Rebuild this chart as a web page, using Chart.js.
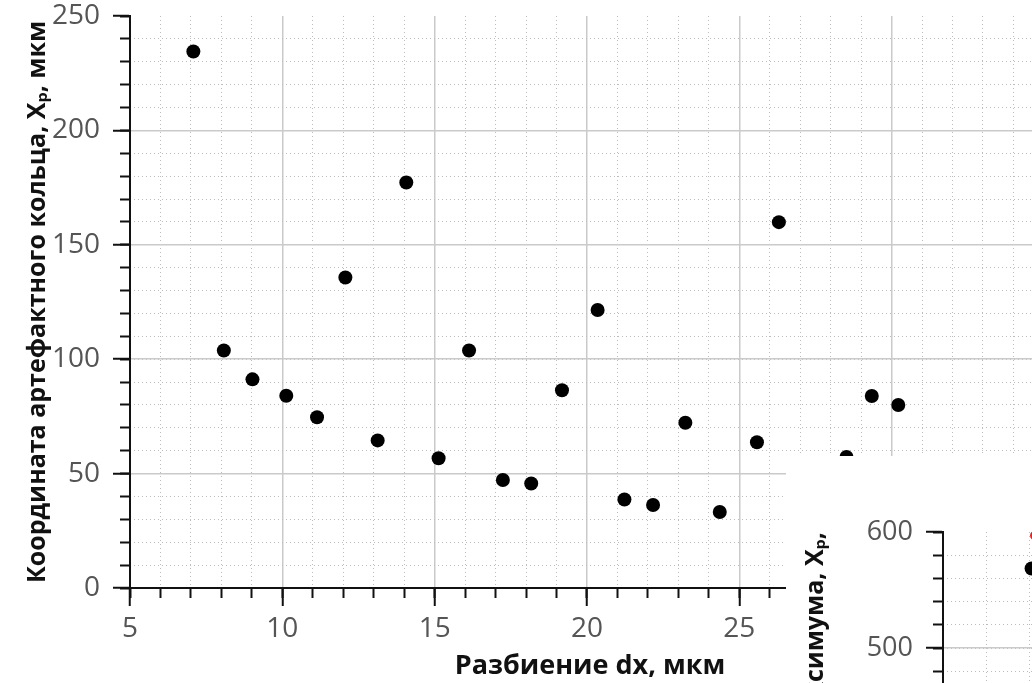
<!DOCTYPE html>
<html>
<head>
<meta charset="utf-8">
<script src="https://cdn.jsdelivr.net/npm/chart.js@4.4.0/dist/chart.umd.min.js"></script>
<style>
  html, body { margin: 0; padding: 0; background: #fff; overflow: hidden; }
  #wrap { position: relative; width: 1032px; height: 683px; overflow: hidden; }
  #main { position: absolute; left: 0; top: 0; }
  #inset { position: absolute; left: 786px; top: 456px; background: #fff; }
</style>
</head>
<body>
<div id="wrap">
  <canvas id="main" width="1070" height="683"></canvas>
  <canvas id="inset" width="480" height="500"></canvas>
</div>
<script>
// основной график: координата артефактного кольца от разбиения
const dx = [7.08, 8.08, 9.02, 10.13, 11.14, 12.07, 13.13, 14.07, 15.13, 16.13, 17.24, 18.17,
            19.18, 20.35, 21.23, 22.17, 23.23, 24.36, 25.58, 26.30, 28.52, 29.35, 30.22];
const xp = [234.5, 103.8, 91.2, 84.0, 74.6, 135.7, 64.5, 177.2, 56.7, 103.8, 47.2, 45.7,
            86.4, 121.5, 38.7, 36.3, 72.2, 33.2, 63.7, 159.9, 57.3, 83.9, 80.0];

// вставка: координата максимума (видна только часть)
const insetDx = [7.04];
const insetXp = [568.5];
const insetRedDx = [7.12];
const insetRedXp = [597];

const xTitle = 'Разбиение dx, мкм';
const yTitle = 'Координата артефактного кольца, Xₚ, мкм';
const insetYTitle = 'Координата максимума, Xₚ,';

const tickGrey = '#555';
const minorGrid = '#bdbdbd';
const majorGrid = '#cacaca';
const axisBlack = '#111';

function pts(xs, ys) {
  return xs.map((x, i) => ({ x: x, y: ys[i] }));
}

// сетка: прячем линию на верхней границе
function gridColor(top, col) {
  return ctx => (ctx.tick && ctx.tick.value === top) ? 'rgba(0,0,0,0)' : col;
}

function noPadX(s) { s.paddingLeft = 0; s.paddingRight = 0; }
function noPadY(s) { s.paddingTop = 0; s.paddingBottom = 0; }

// две оси на каждую сторону: мелкая (пунктир, короткие риски) и крупная (сплошная, подписи)
function makeScales(o) {
  return {
    x: {
      type: 'linear', position: 'bottom', min: o.xmin, max: o.xmax, weight: 0,
      ticks: { stepSize: 1, display: false },
      grid: { color: gridColor(o.xmax, minorGrid), lineWidth: 1, tickColor: axisBlack, tickLength: 10, tickWidth: 2 },
      border: { display: false, dash: [1, 3] },
      afterFit(s) { s.height = 0; noPadX(s); }
    },
    xMajor: {
      type: 'linear', position: 'bottom', min: o.xmin, max: o.xmax, weight: 1,
      ticks: { stepSize: 5, font: { family: '"Open Sans"', size: o.tickSize, lineHeight: 1 }, color: tickGrey, padding: 9 },
      grid: { color: gridColor(o.xmax, majorGrid), lineWidth: 1.5, tickColor: axisBlack, tickLength: 18, tickWidth: 2 },
      border: { color: axisBlack, width: 2 },
      title: { display: true, text: xTitle, color: axisBlack, font: { family: '"Open Sans"', size: 27, weight: 'bold' }, padding: { top: 0, bottom: 0 } },
      afterFit(s) { s.height = o.xHeight; noPadX(s); }
    },
    y: {
      type: 'linear', position: 'left', min: o.ymin, max: o.ymax, weight: 0,
      ticks: { stepSize: o.yMinor, display: false },
      grid: { color: gridColor(o.ymax, minorGrid), lineWidth: 1, tickColor: axisBlack, tickLength: 10, tickWidth: 2 },
      border: { display: false, dash: [1, 3] },
      afterFit(s) { s.width = 0; noPadY(s); }
    },
    yMajor: {
      type: 'linear', position: 'left', min: o.ymin, max: o.ymax, weight: 1,
      ticks: { stepSize: o.yMajor, font: { family: '"Open Sans"', size: o.tickSize, lineHeight: 1 }, color: tickGrey, padding: 13 },
      grid: { color: gridColor(o.ymax, majorGrid), lineWidth: 1.5, tickColor: axisBlack, tickLength: 17, tickWidth: 2 },
      border: { color: axisBlack, width: 2 },
      title: { display: true, text: o.yTitle, align: o.titleAlign, color: axisBlack, font: { family: '"Open Sans"', size: 25, weight: 'bold' }, padding: { top: o.titlePad, bottom: 0 } },
      afterFit(s) { s.width = o.yWidth; noPadY(s); }
    }
  };
}

new Chart(document.getElementById('main'), {
  type: 'scatter',
  data: {
    datasets: [{
      data: pts(dx, xp),
      backgroundColor: '#000', borderWidth: 0, pointRadius: 7, pointHoverRadius: 7
    }]
  },
  options: {
    responsive: false, animation: false, devicePixelRatio: 1,
    layout: { padding: { top: 16, right: 20, left: 0, bottom: 0 } },
    plugins: { legend: { display: false }, tooltip: { enabled: false } },
    scales: makeScales({
      xmin: 5, xmax: 35.2, ymin: 0, ymax: 250, yMinor: 10, yMajor: 50,
      tickSize: 28, xHeight: 95, yWidth: 130, yTitle: yTitle, titleAlign: 'center', titlePad: 23
    })
  }
});

new Chart(document.getElementById('inset'), {
  type: 'scatter',
  data: {
    datasets: [
      { data: pts(insetDx, insetXp), backgroundColor: '#000', borderWidth: 0, pointRadius: 7 },
      { data: pts(insetRedDx, insetRedXp), backgroundColor: '#e82020', borderWidth: 0, pointRadius: 5 }
    ]
  },
  options: {
    responsive: false, animation: false, devicePixelRatio: 1,
    layout: { padding: { top: 76, right: 19, left: 0, bottom: 0 } },
    plugins: { legend: { display: false }, tooltip: { enabled: false } },
    scales: makeScales({
      xmin: 5, xmax: 12, ymin: 300, ymax: 600, yMinor: 20, yMajor: 100,
      tickSize: 27, xHeight: 76, yWidth: 157, yTitle: insetYTitle, titleAlign: 'end', titlePad: 15
    })
  }
});
</script>
</body>
</html>
